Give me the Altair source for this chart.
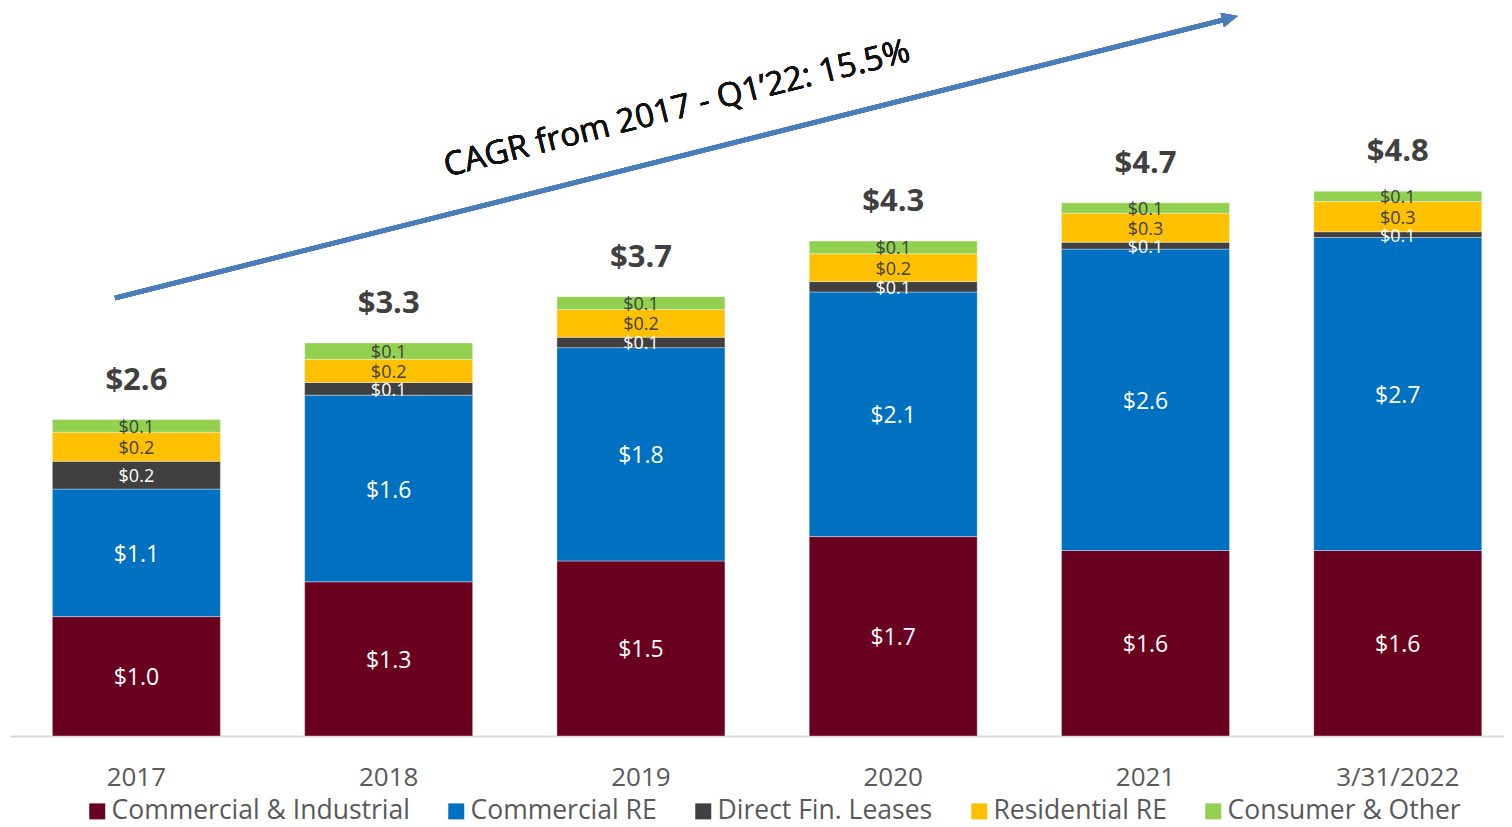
import altair as alt
import pandas as pd

categories = ["2017", "2018", "2019", "2020", "2021", "3/31/2022"]
series = ["Commercial & Industrial", "Commercial RE", "Direct Fin. Leases",
          "Residential RE", "Consumer & Other"]
colors = ["#6A0020", "#0070C0", "#404040", "#FFC000", "#92D050"]

ci_vals = [1.03, 1.33, 1.51, 1.72, 1.60, 1.60]
cre_vals = [1.10, 1.61, 1.84, 2.11, 2.60, 2.70]
dfl_vals = [0.24, 0.11, 0.09, 0.09, 0.06, 0.05]
res_vals = [0.25, 0.20, 0.24, 0.24, 0.25, 0.26]
con_vals = [0.11, 0.14, 0.11, 0.11, 0.09, 0.09]

ci_labels = ["$1.0", "$1.3", "$1.5", "$1.7", "$1.6", "$1.6"]
cre_labels = ["$1.1", "$1.6", "$1.8", "$2.1", "$2.6", "$2.7"]
dfl_labels = ["$0.2", "$0.1", "$0.1", "$0.1", "$0.1", "$0.1"]
res_labels = ["$0.2", "$0.2", "$0.2", "$0.2", "$0.3", "$0.3"]
con_labels = ["$0.1", "$0.1", "$0.1", "$0.1", "$0.1", "$0.1"]

total_labels = ["$2.6", "$3.3", "$3.7", "$4.3", "$4.7", "$4.8"]

cagr_text = "CAGR from 2017 - Q1\u201922: 15.5%"

all_vals = [ci_vals, cre_vals, dfl_vals, res_vals, con_vals]
all_labels = [ci_labels, cre_labels, dfl_labels, res_labels, con_labels]
label_colors = ["#FFFFFF", "#FFFFFF", "#FFFFFF", "#404040", "#404040"]
label_sizes = [23, 23, 18, 18, 18]

rows = []
for ci, cat in enumerate(categories):
    cum = 0.0
    for si, s in enumerate(series):
        v = all_vals[si][ci]
        rows.append({
            "cat": cat, "series": s, "order": si, "value": v,
            "mid": cum + v / 2, "label": all_labels[si][ci],
            "lcolor": label_colors[si], "lsize": label_sizes[si],
        })
        cum += v
df = pd.DataFrame(rows)

tot = pd.DataFrame({
    "cat": categories,
    "total": [sum(all_vals[s][i] for s in range(5)) for i in range(len(categories))],
    "label": total_labels,
})

FONT = "Open Sans"
W, H = 1494, 728
YMAX = 6.28

xenc = alt.X("cat:N", sort=categories,
             scale=alt.Scale(paddingInner=0.334, paddingOuter=0.128, align=0.656),
             axis=alt.Axis(title=None, labelAngle=0, labelFontSize=26, labelFont=FONT,
                           labelColor="#595959", ticks=False, domainColor="#D9D9D9",
                           domainWidth=2, labelPadding=28, grid=False))
yscale = alt.Scale(domain=[0, YMAX], nice=False, zero=True)

bars = alt.Chart(df).mark_bar(stroke="#FFFFFF", strokeWidth=0.6, strokeOpacity=0.6).encode(
    x=xenc,
    y=alt.Y("sum(value):Q", scale=yscale, axis=None, stack="zero"),
    color=alt.Color("series:N", sort=series,
                    scale=alt.Scale(domain=series, range=colors),
                    legend=alt.Legend(title=None, orient="none", direction="horizontal",
                                      legendX=74, legendY=790, labelFont=FONT,
                                      labelFontSize=26.5, labelColor="#595959",
                                      labelLimit=0,
                                      symbolType="square", symbolSize=256,
                                      symbolStrokeWidth=0, labelOffset=1,
                                      columnPadding=33, padding=0)),
    order=alt.Order("order:Q", sort="ascending"),
)

seg_text = alt.Chart(df).mark_text(font=FONT, baseline="middle", align="center", dy=2).encode(
    x=alt.X("cat:N", sort=categories),
    y=alt.Y("mid:Q", scale=yscale),
    text="label:N",
    color=alt.Color("lcolor:N", scale=None),
    size=alt.Size("lsize:Q", scale=None),
)

tot_text = alt.Chart(tot).mark_text(font=FONT, fontSize=31, fontWeight="bold",
                                    color="#404040", baseline="middle", dy=-39).encode(
    x=alt.X("cat:N", sort=categories),
    y=alt.Y("total:Q", scale=yscale),
    text="label:N",
)

arrow_line = alt.Chart(tot).mark_rule(color="#4A7EBB", strokeWidth=4.5, strokeCap="butt").encode(
    x=alt.value(105), y=alt.value(290), x2=alt.value(1213), y2=alt.value(12)
)
arrow_head = alt.Chart(tot).mark_point(shape="M0,-1L-0.9,1L0.9,1Z", filled=True,
                                        color="#4A7EBB", opacity=1, size=256,
                                        angle=75.9).encode(
    x=alt.value(1220), y=alt.value(10)
)
cagr = alt.Chart(tot).mark_text(text=cagr_text, font=FONT, fontSize=33, color="#111111",
                                angle=346, align="center", baseline="middle").encode(
    x=alt.value(667), y=alt.value(101)
)

chart = alt.layer(bars, seg_text, tot_text, arrow_line, arrow_head, cagr).properties(
    width=W, height=H, padding={"left": 2, "top": 0, "right": 0, "bottom": 91},
    autosize=alt.AutoSizeParams(type="none"),
    background="#FFFFFF"
).configure_view(stroke=None)

chart.save("out.html", embed_options={"renderer": "svg", "actions": False})
